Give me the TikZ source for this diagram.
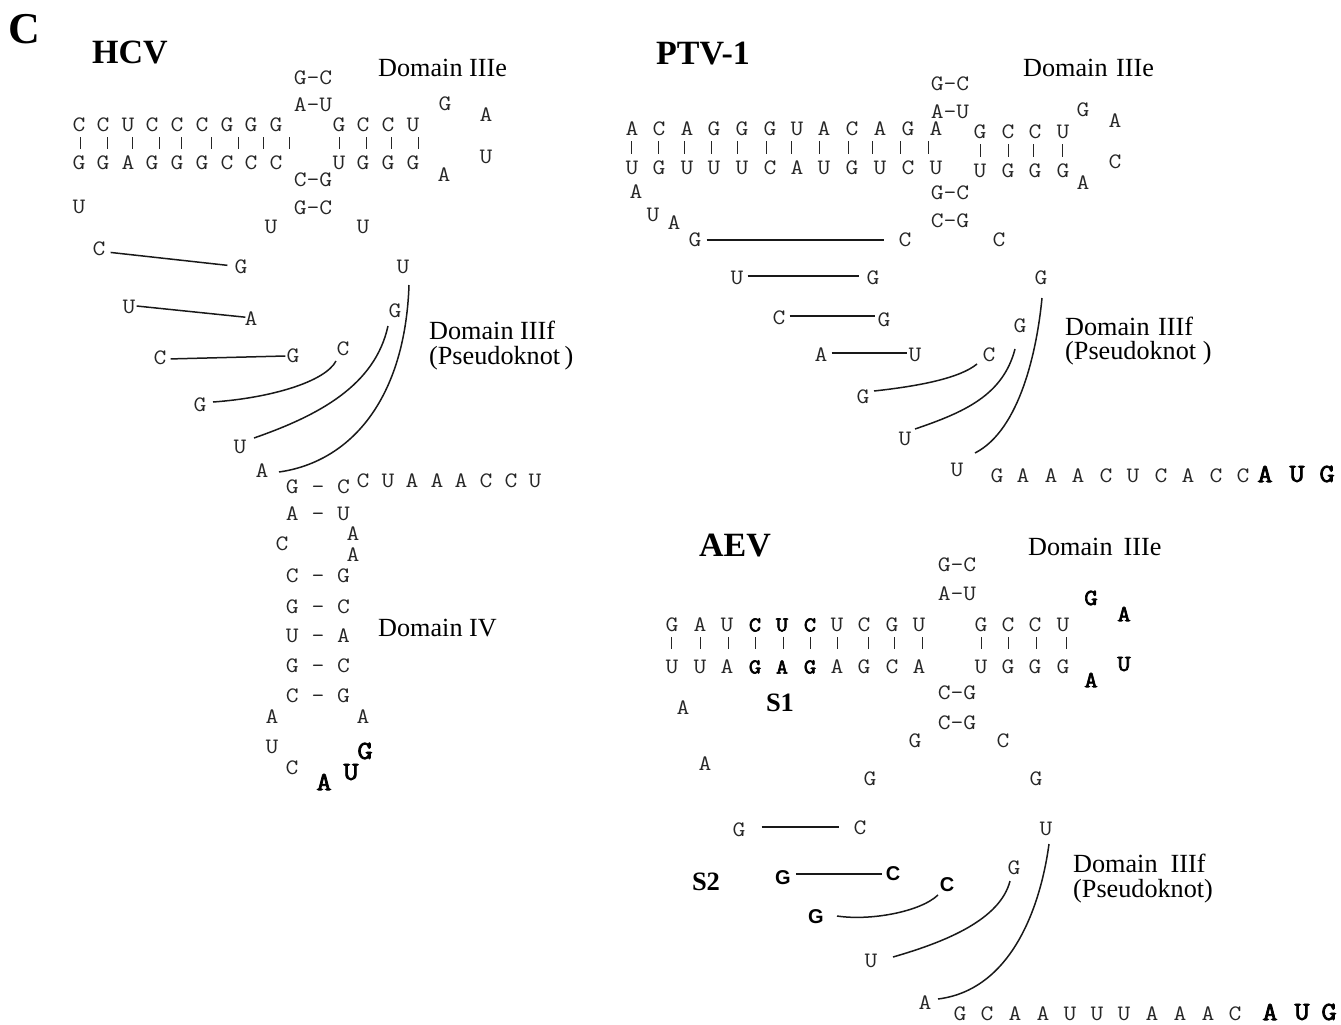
\documentclass[tikz,border=0pt]{standalone}
\usepackage{fontspec}
\setmainfont{Liberation Serif}
\newfontfamily\ntf[FakeStretch=1.13]{Latin Modern Mono}
\newfontfamily\ntb[FakeStretch=1.13,FakeBold=3]{Latin Modern Mono}
\newfontfamily\nts{Liberation Sans}
\tikzset{
  nt/.style={inner sep=1pt,font=\ntf\fontsize{22}{22}\selectfont,text=black!85},
  ntbold/.style={inner sep=1pt,font=\ntb\fontsize{21}{21}\selectfont,text=black},
  ntmid/.style={inner sep=1pt,font=\ntb\fontsize{23}{23}\selectfont,text=black},
  ntbig/.style={inner sep=1pt,font=\ntb\fontsize{26}{26}\selectfont,text=black},
  ntsans/.style={inner sep=1pt,font=\nts\bfseries\fontsize{20}{20}\selectfont,text=black},
  lab/.style={inner sep=0pt,anchor=west,align=left,font=\fontsize{26.2}{24.5}\selectfont},
  ttl/.style={inner sep=0pt,font=\bfseries\fontsize{34}{34}\selectfont},
  sub/.style={inner sep=0pt,font=\bfseries\fontsize{26.5}{26.5}\selectfont},
  bp/.style={line width=1.5pt,black!90},
  tickline/.style={line width=1pt,black!85,shorten <=4pt,shorten >=6pt},
  tickwide/.style={line width=1pt,black!85,shorten <=4pt,shorten >=10pt},
}
\newcommand{\nuc}[4]{\node[nt] (#1) at (#2,#3) {#4};}
\newcommand{\bnuc}[4]{\node[ntbold] (#1) at (#2,#3) {#4};}
\newcommand{\mnuc}[4]{\node[ntmid] (#1) at (#2,#3) {#4};}
\newcommand{\gnuc}[4]{\node[ntbig] (#1) at (#2,#3) {#4};}
\newcommand{\snuc}[4]{\node[ntsans] (#1) at (#2,#3) {#4};}
\newcommand{\tick}[3]{\draw[tickline] ([xshift=#3pt]#1.south) -- ([xshift=#3pt]#2.north);}
\newcommand{\tickA}[3]{\draw[tickwide] ([xshift=#3pt]#1.south) -- ([xshift=#3pt]#2.north);}
% \lnk{a}{b}{dy a}{dy b}{gap a}{gap b}  (dy positive = downwards)
\newcommand{\lnk}[6]{\draw[bp,shorten <=#5pt,shorten >=#6pt] ([yshift=-#3pt]#1.east) -- ([yshift=-#4pt]#2.west);}
% \crv{a}{shift a}{c1}{c2}{b}{shift b}
\newcommand{\crv}[6]{\draw[bp] ([shift={#2}]#1.center) .. controls #3 and #4 .. ([shift={#6}]#5.center);}
\begin{document}
\begin{tikzpicture}[x=1pt,y=-1pt]
\useasboundingbox (0,0) rectangle (1341,1025);
% ---------- titles and labels
\node[inner sep=0pt,font=\bfseries\fontsize{44}{44}\selectfont] (panel) at (24,29) {C};
\node[ttl] (thcv) at (130,53) {HCV};
\node[ttl] (tptv) at (703,54) {PTV-1};
\node[ttl] (taev) at (735,546) {AEV};
\node[lab] (l1) at (378,68) {Domain IIIe};
\node[lab] (l2) at (429,345.5) {Domain IIIf\\(Pseudoknot\,)};
\node[lab] (l4) at (378,628) {Domain IV};
\node[lab] (l5) at (1023,68) {Domain\hspace{8.5pt}IIIe};
\node[lab] (l6) at (1065,341) {Domain\hspace{8.5pt}IIIf\\(Pseudoknot )};
\node[lab] (l8) at (1028,547) {Domain\hspace{11pt}IIIe};
\node[lab] (l9) at (1073,878.5) {Domain\hspace{13pt}IIIf\\(Pseudoknot)};
\node[sub] (s1) at (780,703) {S1};
\node[sub] (s2) at (706,882) {S2};
% ---------- HCV stem
\foreach \i/\x/\t/\b/\d in {1/79/C/G/1,2/103/C/G/4,3/128/U/A/4,4/152/C/G/7,5/177/C/G/4,6/202/C/G/9,7/227/G/C/11,8/251/G/C/12,9/276/G/C/13,10/339/G/U/0,11/363/C/G/3,12/388/C/G/3,13/413/U/G/5}{
  \nuc{ht\i}{\x}{125}{\t}
  \nuc{hb\i}{\x}{163}{\b}
  \tick{ht\i}{hb\i}{\d}
}
\nuc{hp1}{313}{78}{G-C}
\nuc{hp2}{313}{105}{A-U}
\nuc{hp3}{313}{180}{C-G}
\nuc{hp4}{313}{208}{G-C}
\nuc{ha1}{445}{104}{G}
\nuc{ha2}{486}{115}{A}
\nuc{ha3}{486}{157}{U}
\nuc{ha4}{444}{175}{A}
\nuc{hu1}{79}{207}{U}
\nuc{hu2}{271}{227}{U}
\nuc{hu3}{363}{227}{U}
\nuc{hc1}{99}{249}{C}
\nuc{hg1}{241}{267}{G}
\nuc{hu4}{403}{267}{U}
\nuc{hu5}{129}{307}{U}
\nuc{ha5}{251}{319}{A}
\nuc{hg2}{395}{311}{G}
\nuc{hc2}{160}{358}{C}
\nuc{hg3}{293}{356}{G}
\nuc{hc3}{343}{349}{C}
\nuc{hg4}{200}{405}{G}
\nuc{hu6}{240}{447}{U}
\nuc{ha6}{262}{471}{A}
\lnk{hc1}{hg1}{3}{-1}{4}{6}
\lnk{hu5}{ha5}{-1}{-2}{0}{-2}
\lnk{hc2}{hg3}{1}{0}{3}{0}
\crv{hg4}{(13,-3)}{(270,398)}{(325,382)}{hc3}{(-7,12)}
\crv{hu6}{(14,-9)}{(320,415)}{(375,385)}{hg2}{(-7,15)}
\crv{ha6}{(17,1)}{(350,462)}{(405,400)}{hu4}{(6,18)}
% HCV domain IV
\nuc{hd1}{318}{487}{G - C}
\foreach \i/\x/\l in {1/363/C,2/388/U,3/412/A,4/437/A,5/461/A,6/486/C,7/511/C,8/535/U}{\nuc{hr\i}{\x}{481}{\l}}
\nuc{hd2}{318}{514}{A - U}
\nuc{hd3}{282}{544}{C}
\nuc{hd4}{353}{534}{A}
\nuc{hd5}{353}{555}{A}
\nuc{hd6}{318}{576}{C - G}
\nuc{hd7}{318}{607}{G - C}
\nuc{hd8}{318}{636}{U - A}
\nuc{hd9}{318}{666}{G - C}
\nuc{hd10}{318}{696}{C - G}
\nuc{hd11}{272}{717}{A}
\nuc{hd12}{363}{717}{A}
\nuc{hd13}{272}{747}{U}
\nuc{hd14}{292}{768}{C}
\gnuc{hd15}{324}{782}{A}
\gnuc{hd16}{351}{772}{U}
\gnuc{hd17}{365}{751}{G}
% ---------- PTV-1 stem
\foreach \i/\x/\t/\b/\d in {1/632/A/U/-1,2/659/C/G/-1,3/687/A/U/-3,4/714/G/U/-3,5/742/G/U/-5,6/770/G/C/-4,7/797/U/A/-6,8/824/A/U/-5,9/852/C/G/-4,10/880/A/U/-8,11/908/G/C/-8,12/936/A/U/-8}{
  \nuc{pt\i}{\x}{129}{\t}
  \nuc{pb\i}{\x}{168}{\b}
  \tick{pt\i}{pb\i}{\d}
}
\foreach \i/\x/\t/\b/\d in {13/980/G/U/0,14/1008/C/G/0,15/1035/C/G/-2,16/1063/U/G/-1}{
  \nuc{pt\i}{\x}{132}{\t}
  \nuc{pb\i}{\x}{171}{\b}
  \tick{pt\i}{pb\i}{\d}
}
\nuc{pp1}{950}{84}{G-C}
\nuc{pp2}{950}{112}{A-U}
\nuc{pp3}{950}{193}{G-C}
\nuc{pp4}{950}{221}{C-G}
\nuc{pa1}{1083}{110}{G}
\nuc{pa2}{1115}{121}{A}
\nuc{pa3}{1115}{162}{C}
\nuc{pa4}{1083}{183}{A}
\nuc{pq1}{636}{192}{A}
\nuc{pq2}{653}{215}{U}
\nuc{pq3}{674}{223}{A}
\nuc{pq4}{695}{240}{G}
\nuc{pq5}{905}{240}{C}
\nuc{pq6}{999}{240}{C}
\nuc{pq7}{737}{278}{U}
\nuc{pq8}{873}{278}{G}
\nuc{pq9}{1041}{278}{G}
\nuc{pq10}{779}{318}{C}
\nuc{pq11}{884}{320}{G}
\nuc{pq12}{1020}{326}{G}
\nuc{pq13}{821}{355}{A}
\nuc{pq14}{915}{355}{U}
\nuc{pq15}{989}{355}{C}
\nuc{pq16}{863}{397}{G}
\nuc{pq17}{905}{439}{U}
\nuc{pq18}{957}{470}{U}
\lnk{pq4}{pq5}{0}{0}{4}{13}
\lnk{pq7}{pq8}{-2}{-2}{3}{6}
\lnk{pq10}{pq11}{-2}{-4}{3}{1}
\lnk{pq13}{pq14}{-2}{-2}{3}{0}
\crv{pq16}{(11,-6)}{(920,386)}{(960,378)}{pq15}{(-12,9)}
\crv{pq17}{(10,-10)}{(965,412)}{(1003,395)}{pq12}{(-5,23)}
\crv{pq18}{(18,-17)}{(1020,430)}{(1037,350)}{pq9}{(1,20)}
\foreach \i/\x/\l in {1/997/G,2/1023/A,3/1051/A,4/1078/A,5/1106/C,6/1133/U,7/1161/C,8/1188/A,9/1216/C,10/1243/C}{\nuc{pr\i}{\x}{476}{\l}}
\gnuc{ps1}{1265}{474}{A}
\gnuc{ps2}{1297}{474}{U}
\gnuc{ps3}{1327}{474}{G}
% ---------- AEV stem
\foreach \i/\x/\t/\b/\d in {1/672/G/U/-1,2/700/A/U/0,3/727/U/A/1,7/837/U/A/0,8/864/C/G/4,9/892/G/C/2,10/919/U/A/3,11/981/G/U/0,12/1008/C/G/0,13/1035/C/G/1,14/1063/U/G/3}{
  \nuc{at\i}{\x}{625}{\t}
  \nuc{ab\i}{\x}{667}{\b}
  \tickA{at\i}{ab\i}{\d}
}
\foreach \i/\x/\t/\b/\d in {4/755/C/G/0,5/782/U/A/1,6/810/C/G/0}{
  \bnuc{at\i}{\x}{625}{\t}
  \bnuc{ab\i}{\x}{667}{\b}
  \tickA{at\i}{ab\i}{\d}
}
\nuc{ap1}{957}{565}{G-C}
\nuc{ap2}{957}{594}{A-U}
\nuc{ap3}{957}{693}{C-G}
\nuc{ap4}{957}{723}{C-G}
\mnuc{aa1}{1091}{598}{G}
\mnuc{aa2}{1124}{614}{A}
\mnuc{aa3}{1124}{664}{U}
\mnuc{aa4}{1091}{680}{A}
\nuc{aq1}{683}{708}{A}
\nuc{aq2}{705}{764}{A}
\nuc{aq3}{915}{741}{G}
\nuc{aq4}{1003}{741}{C}
\nuc{aq5}{870}{779}{G}
\nuc{aq6}{1036}{779}{G}
\nuc{aq7}{739}{830}{G}
\nuc{aq8}{860}{828}{C}
\nuc{aq9}{1046}{829}{U}
\snuc{aq10}{783}{878}{G}
\snuc{aq11}{893}{874}{C}
\snuc{aq12}{947}{885}{C}
\snuc{aq13}{816}{917}{G}
\nuc{aq14}{1014}{868}{G}
\nuc{aq15}{871}{961}{U}
\nuc{aq16}{925}{1003}{A}
\lnk{aq7}{aq8}{-3}{-1}{15}{13}
\lnk{aq10}{aq11}{-4}{0}{4}{3}
\crv{aq13}{(21,-1)}{(870,921)}{(920,912)}{aq12}{(-9,10)}
\crv{aq15}{(22,-4)}{(945,942)}{(1000,920)}{aq14}{(-4,13)}
\crv{aq16}{(13,-4)}{(1010,990)}{(1040,910)}{aq9}{(3,15)}
\foreach \i/\x/\l in {1/960/G,2/987/C,3/1015/A,4/1043/A,5/1070/U,6/1097/U,7/1124/U,8/1152/A,9/1180/A,10/1208/A,11/1235/C}{\nuc{ar\i}{\x}{1014}{\l}}
\gnuc{as1}{1270}{1012}{A}
\gnuc{as2}{1302}{1012}{U}
\gnuc{as3}{1329}{1012}{G}
\end{tikzpicture}
\end{document}
